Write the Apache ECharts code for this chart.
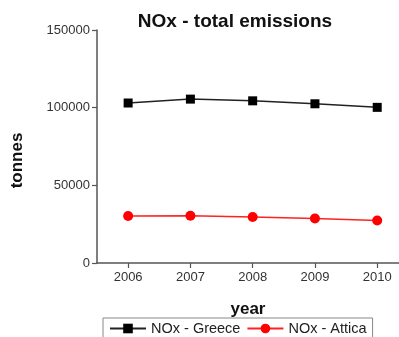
<!DOCTYPE html>
<html><head><meta charset="utf-8">
<script src="https://cdn.jsdelivr.net/npm/echarts@6/dist/echarts.min.js"></script>
<style>html,body{margin:0;padding:0;background:#fff}#c{width:399px;height:337px}</style>
</head><body><div id="c"></div>
<script>
const years = [2006, 2007, 2008, 2009, 2010];
const greece = [103000, 105500, 104400, 102500, 100200];
const attica = [30200, 30400, 29600, 28700, 27400];
const yTicks = [0, 50000, 100000, 150000];

const F = 'Liberation Sans, Arial, sans-serif';
const chart = echarts.init(document.getElementById('c'), null, {renderer: 'canvas'});
chart.setOption({
  animation: false,
  title: {text: 'NOx - total emissions', left: 230, textAlign: 'center', top: 7,
    textStyle: {fontFamily: F, fontSize: 19, fontWeight: 'bold', color: '#111'}},
  grid: {left: 97, top: 30, right: 0, bottom: 74, containLabel: false},
  xAxis: {type: 'value', min: 2005.5, max: 2010.35,
    name: 'year', nameLocation: 'middle', nameGap: 38,
    nameTextStyle: {fontFamily: F, fontSize: 17, fontWeight: 'bold', color: '#111'},
    axisLine: {lineStyle: {color: '#555', width: 1.5}},
    axisTick: {show: true, length: 5, lineStyle: {color: '#555', width: 1.2}, customValues: years},
    axisLabel: {customValues: years, fontFamily: F, fontSize: 13, color: '#333', margin: 8, formatter: v => String(v)},
    splitLine: {show: false}},
  yAxis: {type: 'value', min: 0, max: 150000, interval: 50000,
    name: 'tonnes', nameLocation: 'middle', nameGap: 71, nameRotate: 90,
    nameTextStyle: {fontFamily: F, fontSize: 17, fontWeight: 'bold', color: '#111', padding: [0, 28, 0, 0]},
    axisLine: {show: true, lineStyle: {color: '#555', width: 1.5}},
    axisTick: {show: true, length: 5, lineStyle: {color: '#555', width: 1.2}},
    axisLabel: {fontFamily: F, fontSize: 13, color: '#333', margin: 7,
      customValues: yTicks, formatter: v => String(v)},
    splitLine: {show: false}},
  legend: {left: 103, top: 318, itemGap: 6, itemWidth: 36, itemHeight: 12,
    borderColor: '#888', borderWidth: 1, padding: [3, 6],
    textStyle: {fontFamily: F, fontSize: 14.5, color: '#222'},
    data: ['NOx - Greece', 'NOx - Attica']},
  series: [
    {name: 'NOx - Greece', type: 'line', data: years.map((y, i) => [y, greece[i]]),
      symbol: 'rect', symbolSize: 9, lineStyle: {color: '#222', width: 1.5},
      itemStyle: {color: '#000'}},
    {name: 'NOx - Attica', type: 'line', data: years.map((y, i) => [y, attica[i]]),
      symbol: 'circle', symbolSize: 10, lineStyle: {color: '#f22', width: 1.5},
      itemStyle: {color: '#f00'}}
  ]
});
</script></body></html>
